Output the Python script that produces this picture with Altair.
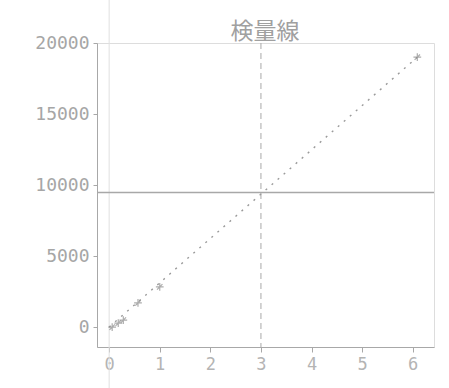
import altair as alt
import pandas as pd

# Calibration standards: concentration vs. response
conc = [0.06, 0.18, 0.28, 0.57, 1.0, 6.09]
resp = [0, 280, 490, 1700, 2830, 19000]

# Fitted calibration line (through origin)
fit_x = [0.0, 6.09]
fit_y = [0, 19000]

# Reading of the sample: x = 3 on the fitted line
read_x = [3]
read_y = [9470]

y_ticks = [0, 5000, 10000, 15000, 20000]
x_ticks = [0, 1, 2, 3, 4, 5, 6]

title_text = ["検量線"]

pts = pd.DataFrame({"x": conc, "y": resp})
fit = pd.DataFrame({"x": fit_x, "y": fit_y})
rx = pd.DataFrame({"x": read_x})
ry = pd.DataFrame({"y": read_y})
zero = pd.DataFrame({"x": [0]})
ttl = pd.DataFrame({"t": title_text})

FONT = "DejaVu Sans Mono"
GREY = "#a8a8a8"
LABEL = "#a6a6a6"

xs = alt.Scale(domain=[-0.24, 6.42], nice=False, zero=False)
ys = alt.Scale(domain=[-1400, 20000], nice=False, zero=False)

xax = alt.Axis(values=x_ticks, grid=False, labelFont=FONT, labelFontSize=17,
               labelColor="#b4b4b4", tickColor=GREY, domainColor=GREY,
               tickSize=5, labelPadding=4, title=None)
yax = alt.Axis(values=y_ticks, grid=False, labelFont=FONT, labelFontSize=18,
               labelColor=LABEL, tickColor=GREY, domainColor=GREY,
               tickSize=4, labelPadding=4, title=None, format="d")

# asterisk-like marker: plus with a diagonal
STAR = "M-1,0L1,0M0,-1L0,1M-0.7,0.7L0.7,-0.7"

fit_line = alt.Chart(fit).mark_line(
    color="#9a9a9a", strokeDash=[2, 6], strokeWidth=1.4
).encode(x=alt.X("x:Q", scale=xs, axis=xax), y=alt.Y("y:Q", scale=ys, axis=yax))

marks = alt.Chart(pts).mark_point(
    shape=STAR, size=60, color="#8a8a8a", filled=False, strokeWidth=1.2
).encode(x=alt.X("x:Q", scale=xs), y=alt.Y("y:Q", scale=ys))

vline = alt.Chart(rx).mark_rule(
    color=GREY, strokeDash=[6, 4], strokeWidth=1
).encode(x=alt.X("x:Q", scale=xs))

hline = alt.Chart(ry).mark_rule(
    color="#a8a8a8", strokeWidth=1.5
).encode(y=alt.Y("y:Q", scale=ys))

axis_zero = alt.Chart(zero).mark_rule(
    color="#e0e0e0", strokeWidth=1, clip=False
).encode(x=alt.X("x:Q", scale=xs), y=alt.value(-45), y2=alt.value(345))

title = alt.Chart(ttl).mark_text(
    font="Noto Sans CJK JP", fontSize=23, color="#a0a0a0",
    baseline="bottom", align="center", clip=False
).encode(text="t:N", x=alt.value(168), y=alt.value(1))

chart = alt.layer(axis_zero, vline, hline, fit_line, marks, title).properties(
    width=337,
    height=304,
    padding={"left": 97, "top": 43, "right": 15, "bottom": 41},
    autosize=alt.AutoSizeParams(type="none"),
).configure_view(
    stroke=GREY, strokeWidth=1, strokeDash=[8, 3]
).configure(background="white")

chart.save("out.html", embed_options={"renderer": "svg", "actions": False})
